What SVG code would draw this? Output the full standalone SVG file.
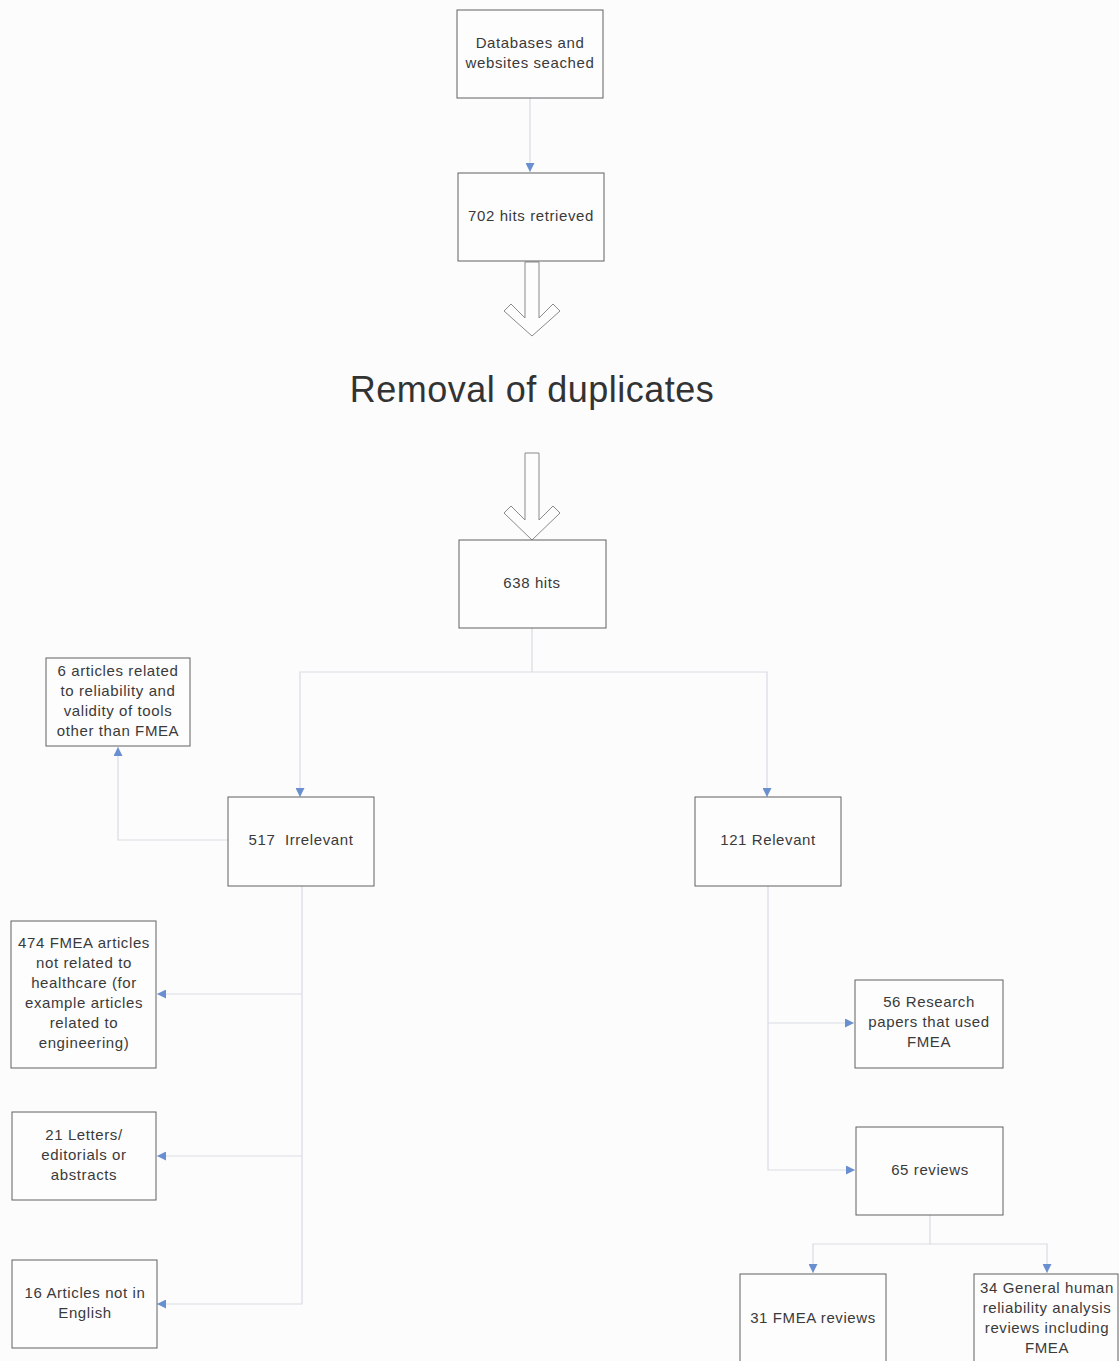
<svg xmlns="http://www.w3.org/2000/svg" width="1119" height="1361" viewBox="0 0 1119 1361">
  <defs>
    <style>
      .box { fill: #fdfdfe; stroke: #606060; stroke-width: 1; }
      .lbl { font-family: "Liberation Sans", Arial, sans-serif; font-size: 15px; letter-spacing: 0.6px; fill: #3a3a3a; text-anchor: middle; }
      .title { font-family: "Liberation Sans", Arial, sans-serif; font-size: 36px; letter-spacing: 0.5px; fill: #333; text-anchor: middle; }
      .conn { fill: none; stroke: #d7dbe3; stroke-width: 1.2; }
      .hollow { fill: #fdfdfe; stroke: #8a8a8a; stroke-width: 1; }
    </style>
    <marker id="tip" viewBox="0 0 10 10" refX="10" refY="5" markerWidth="9" markerHeight="9" markerUnits="userSpaceOnUse" orient="auto">
      <path d="M0,0 L10,5 L0,10 Z" fill="#6a8fd0"/>
    </marker>
  </defs>
  <rect width="1119" height="1361" fill="#fcfcfd"/>

  <!-- connectors -->
  <g id="connectors">
    <path class="conn" d="M530,98 V172" marker-end="url(#tip)"/>
    <path class="conn" d="M532,628 V672 H300 V797" marker-end="url(#tip)"/>
    <path class="conn" d="M532,672 H767 V797" marker-end="url(#tip)"/>
    <path class="conn" d="M228,840 H118 V747" marker-end="url(#tip)"/>
    <path class="conn" d="M302,886 V1304 H157" marker-end="url(#tip)"/>
    <path class="conn" d="M302,994 H157" marker-end="url(#tip)"/>
    <path class="conn" d="M302,1156 H157" marker-end="url(#tip)"/>
    <path class="conn" d="M768,886 V1170 H855" marker-end="url(#tip)"/>
    <path class="conn" d="M768,1023 H854" marker-end="url(#tip)"/>
    <path class="conn" d="M930,1215 V1244 H813 V1273" marker-end="url(#tip)"/>
    <path class="conn" d="M930,1244 H1047 V1273" marker-end="url(#tip)"/>
    <!-- block arrows around the duplicate-removal step -->
    <polygon class="hollow" points="525,262 539,262 539,318 553,304 560,311 532,336 504,311 511,304 525,318"/>
    <polygon class="hollow" points="525,453 539,453 539,520 553,506 560,513 532,540 504,513 511,506 525,520"/>
  </g>

  <g id="databases">
    <rect class="box" x="457" y="10" width="146" height="88"/>
    <text class="lbl" x="530" y="48">Databases and</text>
    <text class="lbl" x="530" y="68">websites seached</text>
  </g>
  <g id="hits702">
    <rect class="box" x="458" y="173" width="146" height="88"/>
    <text class="lbl" x="531" y="221">702 hits retrieved</text>
  </g>
  <g id="removal">
    <text class="title" x="532" y="402">Removal of duplicates</text>
  </g>
  <g id="hits638">
    <rect class="box" x="459" y="540" width="147" height="88"/>
    <text class="lbl" x="532" y="588">638 hits</text>
  </g>
  <g id="articles6">
    <rect class="box" x="46" y="658" width="144" height="88"/>
    <text class="lbl" x="118" y="676">6 articles related</text>
    <text class="lbl" x="118" y="696">to reliability and</text>
    <text class="lbl" x="118" y="716">validity of tools</text>
    <text class="lbl" x="118" y="736">other than FMEA</text>
  </g>
  <g id="irrelevant517">
    <rect class="box" x="228" y="797" width="146" height="89"/>
    <text class="lbl" x="301" y="845">517&#160; Irrelevant</text>
  </g>
  <g id="relevant121">
    <rect class="box" x="695" y="797" width="146" height="89"/>
    <text class="lbl" x="768" y="845">121 Relevant</text>
  </g>
  <g id="fmea474">
    <rect class="box" x="11" y="921" width="145" height="147"/>
    <text class="lbl" x="84" y="948">474 FMEA articles</text>
    <text class="lbl" x="84" y="968">not related to</text>
    <text class="lbl" x="84" y="988">healthcare (for</text>
    <text class="lbl" x="84" y="1008">example articles</text>
    <text class="lbl" x="84" y="1028">related to</text>
    <text class="lbl" x="84" y="1048">engineering)</text>
  </g>
  <g id="letters21">
    <rect class="box" x="12" y="1112" width="144" height="88"/>
    <text class="lbl" x="84" y="1140">21 Letters/</text>
    <text class="lbl" x="84" y="1160">editorials or</text>
    <text class="lbl" x="84" y="1180">abstracts</text>
  </g>
  <g id="english16">
    <rect class="box" x="12" y="1260" width="145" height="88"/>
    <text class="lbl" x="85" y="1298">16 Articles not in</text>
    <text class="lbl" x="85" y="1318">English</text>
  </g>
  <g id="research56">
    <rect class="box" x="855" y="980" width="148" height="88"/>
    <text class="lbl" x="929" y="1007">56 Research</text>
    <text class="lbl" x="929" y="1027">papers that used</text>
    <text class="lbl" x="929" y="1047">FMEA</text>
  </g>
  <g id="reviews65">
    <rect class="box" x="856" y="1127" width="147" height="88"/>
    <text class="lbl" x="930" y="1175">65 reviews</text>
  </g>
  <g id="fmeaReviews31">
    <rect class="box" x="740" y="1274" width="146" height="100"/>
    <text class="lbl" x="813" y="1323">31 FMEA reviews</text>
  </g>
  <g id="general34">
    <rect class="box" x="974" y="1274" width="144" height="100"/>
    <text class="lbl" x="1047" y="1293">34 General human</text>
    <text class="lbl" x="1047" y="1313">reliability analysis</text>
    <text class="lbl" x="1047" y="1333">reviews including</text>
    <text class="lbl" x="1047" y="1353">FMEA</text>
  </g>
</svg>
